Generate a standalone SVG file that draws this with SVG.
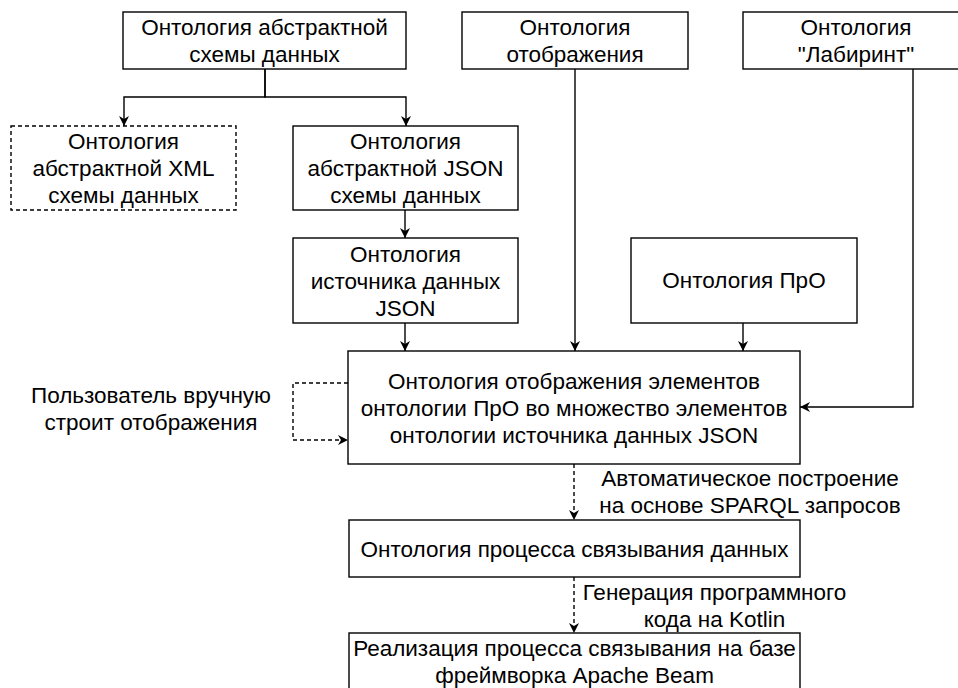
<svg xmlns="http://www.w3.org/2000/svg" width="958" height="688" viewBox="0 0 958 688">
<defs>
<marker id="arr" markerWidth="12" markerHeight="10" refX="10" refY="5" orient="auto" markerUnits="userSpaceOnUse">
<path d="M0,0 L10,5 L0,10 L3,5 Z" fill="#000"/>
</marker>
<style>
.box{fill:#fff;stroke:#000;stroke-width:1.4}
.dbox{fill:#fff;stroke:#000;stroke-width:1.4;stroke-dasharray:4 3}
.t{font-family:"Liberation Sans",Arial,sans-serif;font-size:22.5px;fill:#000;text-anchor:middle}
.c{fill:none;stroke:#000;stroke-width:1.4;marker-end:url(#arr)}
.cd{fill:none;stroke:#000;stroke-width:1.4;stroke-dasharray:4 3;marker-end:url(#arr)}
</style>
</defs>
<rect width="958" height="688" fill="#fff"/>
<g id="connectors">
<path class="c" d="M265 69 V97 H124 V126"/>
<path class="c" d="M265 69 V97 H406 V126"/>
<path class="c" d="M405 210 V238"/>
<path class="c" d="M405 323 V351"/>
<path class="c" d="M575 69 V351"/>
<path class="c" d="M743 323 V351"/>
<path class="c" d="M913 69 V407 H800"/>
<path class="cd" d="M348 383 H293 V440 H348"/>
<path class="cd" d="M574 464 V520"/>
<path class="cd" d="M574 577 V633"/>
</g>
<g id="n_abstract">
<rect class="box" x="123" y="12" width="283" height="57"/>
<text class="t" x="264.5" y="35">Онтология абстрактной</text>
<text class="t" x="264.5" y="62">схемы данных</text>
</g>
<g id="n_mapping">
<rect class="box" x="462" y="12" width="226" height="57"/>
<text class="t" x="575" y="35">Онтология</text>
<text class="t" x="575" y="62">отображения</text>
</g>
<g id="n_labyrinth">
<rect class="box" x="743" y="12" width="226" height="57"/>
<text class="t" x="856" y="35">Онтология</text>
<text class="t" x="856" y="62">"Лабиринт"</text>
</g>
<g id="n_xml">
<rect class="dbox" x="11" y="126" width="225" height="84"/>
<text class="t" x="123.5" y="149">Онтология</text>
<text class="t" x="123.5" y="176">абстрактной XML</text>
<text class="t" x="123.5" y="203">схемы данных</text>
</g>
<g id="n_json">
<rect class="box" x="293" y="126" width="225" height="84"/>
<text class="t" x="405.5" y="149">Онтология</text>
<text class="t" x="405.5" y="176">абстрактной JSON</text>
<text class="t" x="405.5" y="203">схемы данных</text>
</g>
<g id="n_source">
<rect class="box" x="293" y="238" width="225" height="85"/>
<text class="t" x="405.5" y="261.5">Онтология</text>
<text class="t" x="405.5" y="288.5">источника данных</text>
<text class="t" x="405.5" y="315.5">JSON</text>
</g>
<g id="n_pro">
<rect class="box" x="631" y="238" width="226" height="85"/>
<text class="t" x="744" y="288">Онтология ПрО</text>
</g>
<g id="n_main">
<rect class="box" x="348" y="351" width="452" height="113"/>
<text class="t" x="574" y="388.5">Онтология отображения элементов</text>
<text class="t" x="574" y="415.5">онтологии ПрО во множество элементов</text>
<text class="t" x="574" y="442.5">онтологии источника данных JSON</text>
</g>
<g id="n_user">
<text class="t" x="151" y="403">Пользователь вручную</text>
<text class="t" x="151" y="430">строит отображения</text>
</g>
<g id="n_auto">
<text class="t" x="750" y="486">Автоматическое построение</text>
<text class="t" x="750" y="513">на основе SPARQL запросов</text>
</g>
<g id="n_process">
<rect class="box" x="349" y="520" width="451" height="57"/>
<text class="t" x="574.5" y="556.5">Онтология процесса связывания данных</text>
</g>
<g id="n_gen">
<text class="t" x="714.5" y="600">Генерация программного</text>
<text class="t" x="714.5" y="626.5">кода на Kotlin</text>
</g>
<g id="n_impl">
<rect class="box" x="349" y="633" width="451" height="70"/>
<text class="t" x="574.5" y="656">Реализация процесса связывания на базе</text>
<text class="t" x="574.5" y="683">фреймворка Apache Beam</text>
</g>
</svg>
